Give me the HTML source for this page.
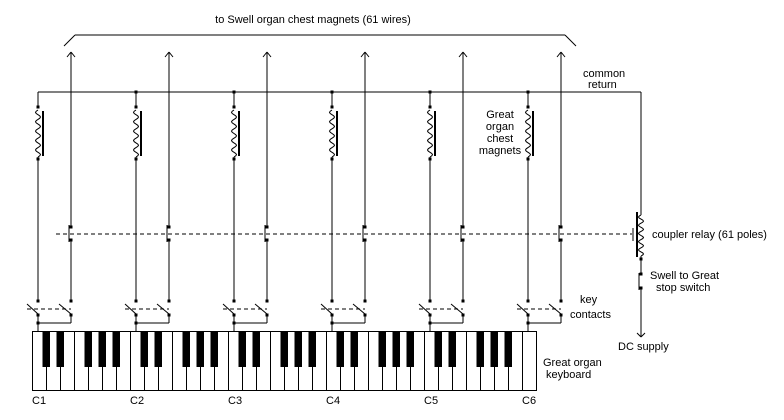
<!DOCTYPE html>
<html><head><meta charset="utf-8"><style>
body{margin:0;background:#fff}
svg{display:block}
text{font-family:"Liberation Sans",sans-serif;font-size:11px;fill:#000}
</style></head><body>
<svg id="s" width="784" height="420" viewBox="0 0 784 420" xmlns="http://www.w3.org/2000/svg">
<rect width="784" height="420" fill="#fff"/>
<g id="g" stroke="#000" fill="none" stroke-width="1"></g>
<text x="313" y="23" text-anchor="middle">to Swell organ chest magnets (61 wires)</text>
<text x="583" y="77">common</text>
<text x="588" y="88">return</text>
<text x="500" y="118" text-anchor="middle">Great</text>
<text x="500" y="130" text-anchor="middle">organ</text>
<text x="500" y="142" text-anchor="middle">chest</text>
<text x="500" y="154" text-anchor="middle">magnets</text>
<text x="652" y="238">coupler relay (61 poles)</text>
<text x="650" y="279">Swell to Great</text>
<text x="656" y="291">stop switch</text>
<text x="580" y="303">key</text>
<text x="570" y="318">contacts</text>
<text x="618" y="350">DC supply</text>
<text x="543" y="366">Great organ</text>
<text x="546" y="378">keyboard</text>
<text x="32" y="404">C1</text>
<text x="130" y="404">C2</text>
<text x="228" y="404">C3</text>
<text x="326" y="404">C4</text>
<text x="424" y="404">C5</text>
<text x="522" y="404">C6</text>
</svg>
<script>
var g=document.getElementById('g'),h='';
function L(a,b,c,d,e){h+='<line x1="'+a+'" y1="'+b+'" x2="'+c+'" y2="'+d+'"'+(e||'')+'/>';}
function D(x,y){h+='<rect x="'+(x-1.5)+'" y="'+(y-1.5)+'" width="3" height="3" fill="#000" stroke="none"/>';}
function coil(x,y1,y2){var n=5,s=(y2-y1)/n,p='M'+x+' '+y1;
 for(var t=0;t<=40;t++){var y=y1+(y2-y1)*t/40;var xx=x-2.5*Math.sin(Math.PI*2*n*t/40);p+=' L'+xx.toFixed(2)+' '+y.toFixed(2);}
 h+='<path d="'+p+'"/>';}
// top brace
L(75,35,565,35);L(75,35,64,46);L(565,35,576,46);
// common return
L(38,92,641,92);
for(var k=0;k<6;k++){
 var a=38+98*k,b=71+98*k;
 if(k>0)D(a,92);
 L(a,92,a,107);D(a,107);coil(a,110,157);D(a,159);L(a,157,a,301);
 h+='<rect x="'+(a+4)+'" y="111" width="2" height="45" fill="#000" stroke="none"/>';
 L(b,52,b,227);L(b-4,57,b,52);L(b+4,57,b,52);
 D(b,227);L(b-2,225,b-2,242);D(b,240);L(b,240,b,301);
 D(a,301);D(b,301);L(a-11,304,a,314);L(b-12,304,b,314);D(a,315);D(b,315);
 h+='<line x1="'+(a-11)+'" y1="309" x2="'+b+'" y2="309" stroke-dasharray="4,3"/>';
 L(a,315,a,331);L(b,315,b,323);L(a,323,b,323);D(a,323);
}
h+='<line x1="56" y1="234" x2="632" y2="234" stroke-dasharray="4,3"/>';
L(633,228,633,241);
h+='<rect x="636" y="212" width="2" height="45" fill="#000" stroke="none"/>';
L(641,92,641,215);coil(641,215,256);
D(641,259);L(641,256,641,274);D(641,274);L(639,273,639,290);D(641,288);L(641,288,641,337);
L(637,333,641,337);L(645,333,641,337);
h+='<rect x="32.5" y="331.5" width="504" height="59" fill="#fff"/>';
for(var i=1;i<36;i++){var x=32+14*i+0.5;L(x,331,x,391);}
var bk=[1,2,4,5,6];
for(var o=0;o<5;o++)for(var j=0;j<5;j++){var bx=32+98*o+14*bk[j]-3.5;h+='<rect x="'+bx+'" y="331" width="7.5" height="36" fill="#000" stroke="none"/>';}
g.innerHTML=h;
</script>
</body></html>
